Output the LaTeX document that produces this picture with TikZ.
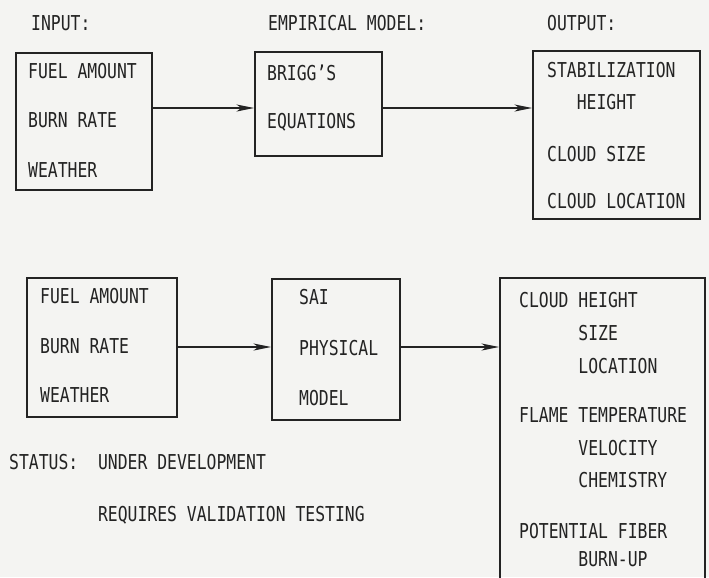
\documentclass[tikz,border=0pt]{standalone}
\usepackage{fontspec}
\newfontfamily\typer[FakeStretch=0.8]{DejaVu Sans Mono}
\usetikzlibrary{arrows.meta,positioning}
\definecolor{paper}{RGB}{244,244,242}
\definecolor{ink}{RGB}{35,35,35}

\begin{document}
\begin{tikzpicture}[x=0.03cm,y=-0.03cm,
    box/.style={draw=ink,line width=1.5pt,inner sep=0pt},
    txt/.style={text=ink,inner sep=0pt,anchor=north west,align=left,
                font=\typer\fontsize{17.5}{20}\selectfont\frenchspacing},
    flow/.style={-{Stealth[length=15pt,width=6pt,inset=4pt]},
                 line width=1.4pt,draw=ink},
]
\path[use as bounding box,fill=paper] (0,0) rectangle (709,577);
\clip (0,0) rectangle (709,577);

% column headings
\node[txt] (hin)  at (31,15)  {INPUT:};
\node[txt] (hemp) at (268,15) {EMPIRICAL MODEL:};
\node[txt] (hout) at (547,15) {OUTPUT:};

% upper row: empirical model
\node[box,minimum width=4.08cm,minimum height=4.11cm] (in1)  at (84,121.5)  {};
\node[box,minimum width=3.81cm,minimum height=3.12cm] (emp)  at (318.5,104) {};
\node[box,minimum width=5.01cm,minimum height=5.04cm] (out1) at (616.5,135) {};

\node[txt] (in1t) at (28,63)
    {FUEL AMOUNT\\[22pt] BURN RATE\\[22.5pt] WEATHER};
\node[txt] (empt) at (267,65)
    {BRIGG’S\\[21pt] EQUATIONS};
\node[txt] (out1t) at (547,62)
    {STABILIZATION\\[7.3pt] \phantom{STA}HEIGHT\\[24.4pt]
     CLOUD SIZE\\[20.5pt] CLOUD LOCATION};

\coordinate (row1) at (0,108);
\draw[flow] (in1.east |- row1) -- (emp.west |- row1);
\draw[flow] (emp.east |- row1) -- (out1.west |- row1);

% lower row: physical model
\node[box,minimum width=4.5cm,minimum height=4.17cm]   (in2)  at (102,347.5) {};
\node[box,minimum width=3.84cm,minimum height=4.23cm]  (phys) at (336,349.5) {};
\node[box,minimum width=6.15cm,minimum height=10.26cm] (out2) at (602.5,449) {};

\node[txt] (in2t) at (40,288)
    {FUEL AMOUNT\\[23.1pt] BURN RATE\\[21.8pt] WEATHER};
\node[txt] (physt) at (299,289)
    {SAI\\[23.5pt] PHYSICAL\\[22.7pt] MODEL};
\node[txt] (out2t) at (519,292)
    {CLOUD HEIGHT\\[8.2pt] \phantom{CLOUD }SIZE\\[8.2pt]
     \phantom{CLOUD }LOCATION\\[21.8pt]
     FLAME TEMPERATURE\\[8.2pt] \phantom{FLAME }VELOCITY\\[7.3pt]
     \phantom{FLAME }CHEMISTRY\\[23.1pt]
     POTENTIAL FIBER\\[4.3pt] \phantom{FLAME }BURN-UP};

\coordinate (row2) at (0,347);
\draw[flow] (in2.east |- row2)  -- (phys.west |- row2);
\draw[flow] (phys.east |- row2) -- (out2.west |- row2);

% status note
\node[txt] (status) at (9,454)
    {STATUS:~~UNDER DEVELOPMENT\\[24pt]
     \phantom{STATUS:~~}REQUIRES VALIDATION TESTING};

\end{tikzpicture}
\end{document}
